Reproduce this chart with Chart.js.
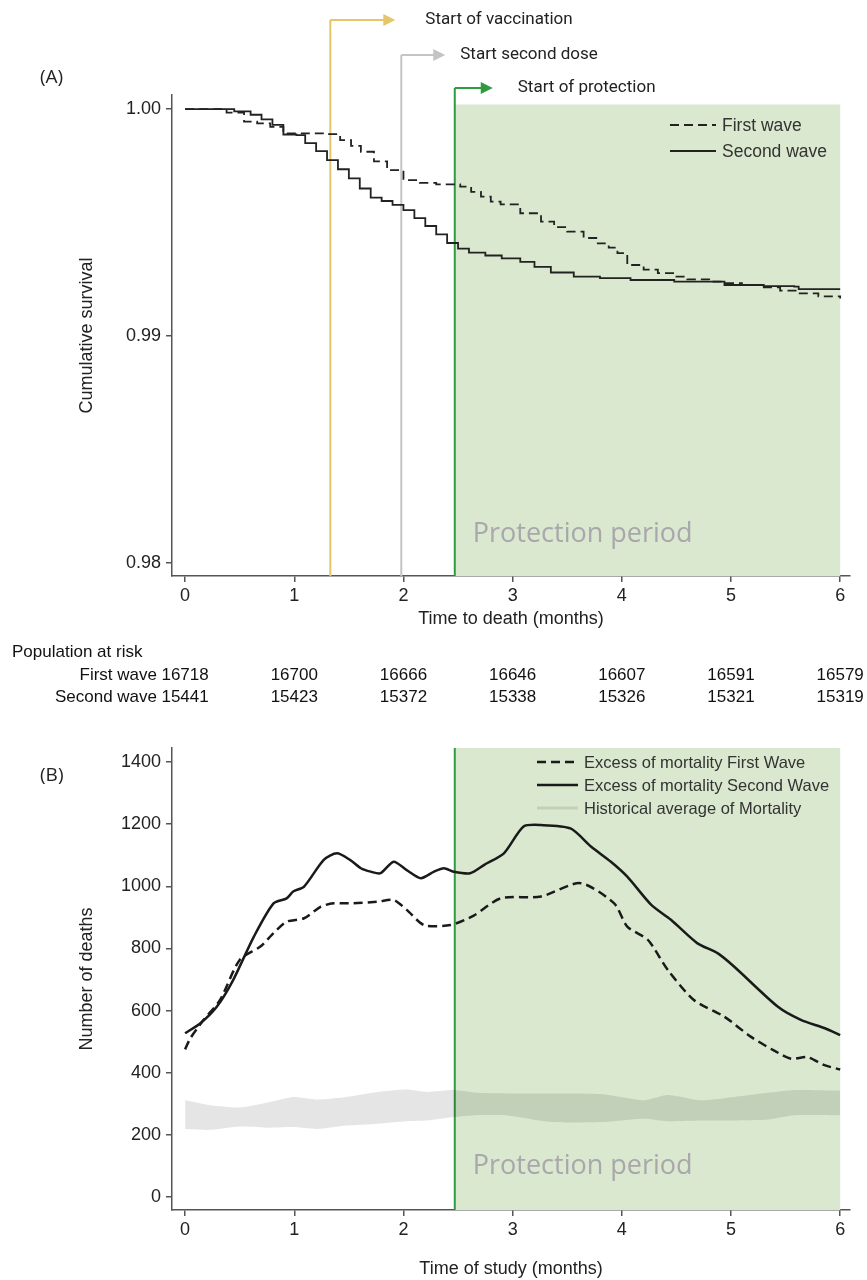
<!DOCTYPE html>
<html>
<head>
<meta charset="utf-8">
<script src="https://cdn.jsdelivr.net/npm/chart.js@4.4.1/dist/chart.umd.min.js"></script>
<style>
  body { margin: 0; background: #fff; }
  #wrap { position: relative; width: 867px; height: 1280px; }
  #boxA { position: absolute; left: 0; top: 0; width: 867px; height: 720px; }
  #boxB { position: absolute; left: 0; top: 720px; width: 867px; height: 560px; }
</style>
</head>
<body>
<div id="wrap">
  <div id="boxA"><canvas id="survival"></canvas></div>
  <div id="boxB"><canvas id="deaths"></canvas></div>
</div>
<script>
// eixos
const monthTicks = [0, 1, 2, 3, 4, 5, 6];
const survivalTicks = [0.98, 0.99, 1.00];
const deathTicks = [0, 200, 400, 600, 800, 1000, 1200, 1400];

// marcos da vacinação (meses)
const milestoneLabels = ['Start of vaccination', 'Start second dose', 'Start of protection'];
const milestoneMonths = [1.33, 1.98, 2.47];
const protectionStart = 2.47;
const studyEnd = 6;

// (A) curvas de sobrevivência
const firstWaveMonths = [0, 0.23, 0.38, 0.54, 0.66, 0.78, 0.90, 1.30, 1.42, 1.52, 1.61, 1.73, 1.85, 2.00, 2.15, 2.30, 2.52, 2.62, 2.71, 2.80, 2.89, 3.07, 3.26, 3.38, 3.50, 3.65, 3.78, 3.88, 3.96, 4.05, 4.20, 4.33, 4.47, 4.60, 4.80, 4.94, 5.10, 5.28, 5.45, 5.61, 5.80, 6.00];
const firstWaveSurvival = [1.0000, 1.0000, 0.99984, 0.99945, 0.99937, 0.99922, 0.99893, 0.99890, 0.99863, 0.99838, 0.99812, 0.99770, 0.99731, 0.99687, 0.99675, 0.99668, 0.99658, 0.99635, 0.99614, 0.99592, 0.99580, 0.99541, 0.99504, 0.99480, 0.99460, 0.99432, 0.99408, 0.99390, 0.99365, 0.99313, 0.99293, 0.99277, 0.99262, 0.99250, 0.99240, 0.99233, 0.99225, 0.99215, 0.99200, 0.99188, 0.99175, 0.99166];
const secondWaveMonths = [0, 0.30, 0.45, 0.60, 0.70, 0.80, 0.90, 1.02, 1.10, 1.20, 1.30, 1.40, 1.50, 1.60, 1.70, 1.80, 1.90, 2.00, 2.10, 2.20, 2.30, 2.40, 2.50, 2.60, 2.75, 2.90, 3.07, 3.20, 3.35, 3.56, 3.80, 4.08, 4.48, 4.94, 5.30, 5.58, 5.62, 6.00];
const secondWaveSurvival = [1.0000, 1.0000, 0.99990, 0.99975, 0.99955, 0.99930, 0.99888, 0.99885, 0.99850, 0.99815, 0.99775, 0.99735, 0.99695, 0.99650, 0.99610, 0.99595, 0.99578, 0.99555, 0.99520, 0.99485, 0.99448, 0.99410, 0.99385, 0.99368, 0.99355, 0.99342, 0.99327, 0.99305, 0.99280, 0.99262, 0.99255, 0.99247, 0.99240, 0.99225, 0.99220, 0.99218, 0.99207, 0.99207];

// população em risco
const riskMonths = [0, 1, 2, 3, 4, 5, 6];
const riskFirstWave = [16718, 16700, 16666, 16646, 16607, 16591, 16579];
const riskSecondWave = [15441, 15423, 15372, 15338, 15326, 15321, 15319];

// (B) excesso de mortalidade
const excessFirstMonths = [0, 0.05, 0.17, 0.32, 0.50, 0.69, 0.81, 0.93, 1.09, 1.24, 1.36, 1.54, 1.76, 1.91, 2.03, 2.19, 2.43, 2.64, 2.89, 3.26, 3.62, 3.93, 4.05, 4.24, 4.42, 4.66, 4.94, 5.18, 5.40, 5.55, 5.70, 5.85, 6.00];
const excessFirstDeaths = [475, 512, 570, 634, 763, 806, 849, 886, 897, 934, 945, 945, 950, 956, 924, 875, 875, 905, 961, 967, 1010, 945, 870, 827, 731, 634, 580, 516, 470, 445, 450, 425, 410];
const excessSecondMonths = [0, 0.14, 0.29, 0.44, 0.63, 0.81, 0.93, 0.99, 1.09, 1.27, 1.39, 1.51, 1.61, 1.70, 1.79, 1.91, 2.03, 2.16, 2.28, 2.37, 2.46, 2.61, 2.74, 2.92, 3.10, 3.26, 3.53, 3.72, 3.90, 4.05, 4.27, 4.45, 4.69, 4.88, 5.03, 5.43, 5.64, 5.86, 6.00];
const excessSecondDeaths = [527, 559, 612, 698, 838, 945, 961, 983, 999, 1085, 1106, 1085, 1058, 1047, 1042, 1079, 1052, 1026, 1047, 1058, 1047, 1042, 1069, 1106, 1192, 1197, 1186, 1127, 1079, 1031, 940, 892, 817, 784, 741, 612, 570, 543, 521];
const historicalMonths = [0, 0.23, 0.50, 0.78, 0.99, 1.21, 1.48, 1.76, 2.03, 2.22, 2.46, 2.68, 2.95, 3.35, 3.81, 4.20, 4.42, 4.72, 5.03, 5.34, 5.58, 6.00];
const historicalLow = [219, 216, 227, 223, 225, 219, 230, 236, 244, 246, 257, 263, 262, 241, 241, 252, 244, 246, 246, 249, 263, 263];
const historicalHigh = [311, 295, 288, 306, 322, 314, 322, 338, 346, 338, 344, 335, 333, 333, 331, 311, 328, 311, 322, 335, 344, 342];

const AXIS = '#555';
const TEXT = '#222';
const FONT = '"Liberation Sans", Arial, sans-serif';
const milestoneColors = ['#e6c66a', '#c4c4c4', '#2f9a3f'];
const milestoneArrowY = [20, 55, 88];
const milestoneArrowLen = [65, 44, 38];
const milestoneTextGap = [30, 15, 25];

const pts = (xs, ys) => xs.map((t, i) => ({ x: t, y: ys[i] }));

function arrowRight(ctx, x0, x1, y, color) {
  ctx.strokeStyle = color;
  ctx.fillStyle = color;
  ctx.lineWidth = 2;
  ctx.beginPath();
  ctx.moveTo(x0, y);
  ctx.lineTo(x1 - 10, y);
  ctx.stroke();
  ctx.beginPath();
  ctx.moveTo(x1, y);
  ctx.lineTo(x1 - 12, y - 6);
  ctx.lineTo(x1 - 12, y + 6);
  ctx.closePath();
  ctx.fill();
}

function drawLegend(ctx, datasets, x, y, step, len, font) {
  ctx.font = font;
  ctx.textBaseline = 'middle';
  datasets.forEach((ds, i) => {
    const yy = y + i * step;
    ctx.save();
    ctx.strokeStyle = ds.legendColor || ds.borderColor;
    ctx.lineWidth = ds.legendWidth || ds.borderWidth;
    ctx.setLineDash(ds.borderDash || []);
    ctx.beginPath();
    ctx.moveTo(x, yy);
    ctx.lineTo(x + len, yy);
    ctx.stroke();
    ctx.restore();
    ctx.fillStyle = '#333';
    ctx.fillText(ds.label, x + len + 6, yy + 1);
  });
}

// área verde + linhas dos marcos
const shadePlugin = {
  id: 'shade',
  beforeDatasetsDraw(chart, args, opts) {
    const { ctx, chartArea: a, scales: { x, y } } = chart;
    const x0 = x.getPixelForValue(protectionStart);
    const x1 = x.getPixelForValue(studyEnd);
    const top = opts.top != null ? y.getPixelForValue(opts.top) : a.top;
    ctx.save();
    ctx.fillStyle = '#d9e8cf';
    ctx.fillRect(x0, top, x1 - x0, a.bottom - top);
    ctx.fillStyle = '#a9a7ab';
    ctx.font = '27px "Open Sans", sans-serif';
    ctx.textBaseline = 'middle';
    ctx.fillText('Protection period', x0 + 18, y.getPixelForValue(opts.textAt));
    if (opts.milestones) {
      milestoneMonths.forEach((m, i) => {
        const px = x.getPixelForValue(m);
        ctx.strokeStyle = milestoneColors[i];
        ctx.lineWidth = 2;
        ctx.beginPath();
        ctx.moveTo(px, milestoneArrowY[i]);
        ctx.lineTo(px, a.bottom);
        ctx.stroke();
        arrowRight(ctx, px, px + milestoneArrowLen[i], milestoneArrowY[i], milestoneColors[i]);
        ctx.fillStyle = TEXT;
        ctx.font = '17px Roboto, sans-serif';
        ctx.textBaseline = 'middle';
        ctx.fillText(milestoneLabels[i], px + milestoneArrowLen[i] + milestoneTextGap[i], milestoneArrowY[i]);
      });
    } else {
      ctx.strokeStyle = milestoneColors[2];
      ctx.lineWidth = 2;
      ctx.beginPath();
      ctx.moveTo(x0, a.top);
      ctx.lineTo(x0, a.bottom);
      ctx.stroke();
    }
    ctx.restore();
  },
  afterDraw(chart, args, opts) {
    const { ctx, scales: { x } } = chart;
    ctx.save();
    ctx.fillStyle = TEXT;
    ctx.font = '19px "Open Sans", sans-serif';
    ctx.textBaseline = 'middle';
    ctx.fillText(opts.panel, 40, opts.panelY);
    drawLegend(ctx, chart.data.datasets.filter(d => d.label), opts.legendX, opts.legendY, opts.legendStep, opts.legendLen, opts.legendFont);
    if (opts.riskTable) {
      ctx.fillStyle = '#111';
      ctx.font = '17px ' + FONT;
      ctx.textAlign = 'left';
      ctx.fillText('Population at risk', 12, 652);
      ctx.textAlign = 'right';
      ctx.fillText('First wave', 157, 675);
      ctx.fillText('Second wave', 157, 697);
      ctx.textAlign = 'center';
      riskMonths.forEach((m, i) => {
        const px = x.getPixelForValue(m);
        ctx.fillText(String(riskFirstWave[i]), px, 675);
        ctx.fillText(String(riskSecondWave[i]), px, 697);
      });
    }
    ctx.restore();
  }
};

function xScale(title, h) {
  return {
    type: 'linear', min: -0.12, max: 6.09,
    afterBuildTicks: s => { s.ticks = monthTicks.map(v => ({ value: v })); },
    afterFit: s => { s.height = h; },
    grid: { drawOnChartArea: false, tickLength: 6, color: AXIS, lineWidth: 1.5 },
    border: { color: AXIS, width: 1.5 },
    ticks: { color: TEXT, font: { family: FONT, size: 18 }, padding: 3, maxRotation: 0 },
    title: { display: true, text: title, color: TEXT, font: { family: FONT, size: 18 }, padding: { top: 4, bottom: 0 } }
  };
}

function yScale(title, min, max, ticks, fmt) {
  return {
    min: min, max: max,
    afterBuildTicks: s => { s.ticks = ticks.map(v => ({ value: v })); },
    afterFit: s => { s.width = 100; },
    grid: { drawOnChartArea: false, tickLength: 6, color: AXIS, lineWidth: 1.5 },
    border: { color: AXIS, width: 1.5 },
    ticks: { color: TEXT, font: { family: FONT, size: 18 }, padding: 5, callback: fmt },
    title: { display: true, text: title, color: TEXT, font: { family: FONT, size: 18 } }
  };
}

new Chart(document.getElementById('survival'), {
  type: 'line',
  data: {
    datasets: [
      { label: 'First wave', data: pts(firstWaveMonths, firstWaveSurvival), borderColor: '#222', borderWidth: 1.8, borderDash: [9, 5], stepped: true, pointRadius: 0, fill: false },
      { label: 'Second wave', data: pts(secondWaveMonths, secondWaveSurvival), borderColor: '#222', borderWidth: 1.8, stepped: true, pointRadius: 0, fill: false }
    ]
  },
  options: {
    responsive: true, maintainAspectRatio: false, animation: false,
    layout: { padding: { top: 95, left: 72, right: 17, bottom: 90 } },
    plugins: {
      legend: { display: false }, tooltip: { enabled: false },
      shade: { top: 1.0002, textAt: 0.98128, milestones: true, panel: '(A)', panelY: 78, riskTable: true,
               legendX: 670, legendY: 125, legendStep: 26, legendLen: 46, legendFont: '17.5px ' + FONT }
    },
    scales: {
      x: xScale('Time to death (months)', 54),
      y: yScale('Cumulative survival', 0.97943, 1.00062, survivalTicks, v => v.toFixed(2))
    }
  },
  plugins: [shadePlugin]
});

new Chart(document.getElementById('deaths'), {
  type: 'line',
  data: {
    datasets: [
      { label: 'Excess of mortality First Wave', data: pts(excessFirstMonths, excessFirstDeaths), borderColor: '#1a1a1a', borderWidth: 2.5, borderDash: [9, 5], tension: 0.25, pointRadius: 0, fill: false },
      { label: 'Excess of mortality Second Wave', data: pts(excessSecondMonths, excessSecondDeaths), borderColor: '#1a1a1a', borderWidth: 2.5, tension: 0.25, pointRadius: 0, fill: false },
      { label: 'Historical average of Mortality', data: pts(historicalMonths, historicalLow), borderWidth: 0, pointRadius: 0, fill: false, tension: 0.2, legendColor: 'rgba(0,0,0,0.1)', legendWidth: 3 },
      { data: pts(historicalMonths, historicalHigh), borderWidth: 0, pointRadius: 0, fill: '-1', backgroundColor: 'rgba(0,0,0,0.1)', tension: 0.2 }
    ]
  },
  options: {
    responsive: true, maintainAspectRatio: false, animation: false,
    layout: { padding: { top: 28, left: 72, right: 17, bottom: 0 } },
    plugins: {
      legend: { display: false }, tooltip: { enabled: false },
      shade: { textAt: 100, milestones: false, panel: '(B)', panelY: 56, riskTable: false,
               legendX: 537, legendY: 42, legendStep: 23, legendLen: 41, legendFont: '16.5px ' + FONT }
    },
    scales: {
      x: xScale('Time of study (months)', 70),
      y: yScale('Number of deaths', -42, 1445, deathTicks, v => String(v))
    }
  },
  plugins: [shadePlugin]
});
</script>
</body>
</html>
